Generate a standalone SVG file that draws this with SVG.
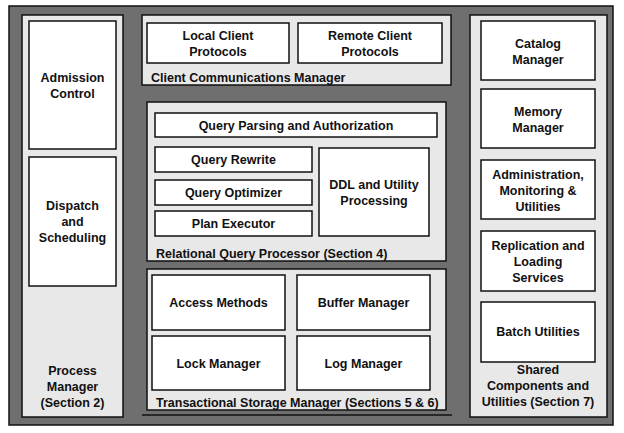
<svg xmlns="http://www.w3.org/2000/svg" width="624" height="433" viewBox="0 0 624 433">
<style>
.outer{fill:#6f6f6f;stroke:#111;stroke-width:1.5}
.panel{fill:#e8e8e8;stroke:#111;stroke-width:1.5}
.box{fill:#fff;stroke:#111;stroke-width:1.5}
text{font-family:"Liberation Sans",Arial,Helvetica,sans-serif;font-weight:bold;font-size:12.5px;fill:#111}
.c{text-anchor:middle}
</style>
<rect width="624" height="433" fill="#fff"/>
<rect class="outer" x="9" y="6" width="604" height="419"/>

<g id="process-manager">
<rect class="panel" x="22" y="15" width="101" height="402"/>
<text class="c" x="72.5" y="375">Process</text>
<text class="c" x="72.5" y="391">Manager</text>
<text class="c" x="72.5" y="407">(Section 2)</text>
</g>
<g id="admission-control">
<rect class="box" x="29" y="21" width="87" height="128"/>
<text class="c" x="72.5" y="82">Admission</text>
<text class="c" x="72.5" y="98">Control</text>
</g>
<g id="dispatch-scheduling">
<rect class="box" x="29" y="157" width="87" height="129"/>
<text class="c" x="72.5" y="210">Dispatch</text>
<text class="c" x="72.5" y="226">and</text>
<text class="c" x="72.5" y="242">Scheduling</text>
</g>

<g id="client-comm-manager">
<rect class="panel" x="142" y="15" width="309" height="70"/>
<text x="151" y="81.5">Client Communications Manager</text>
</g>
<g id="local-client-protocols">
<rect class="box" x="147" y="23" width="142" height="40"/>
<text class="c" x="218" y="39.5">Local Client</text>
<text class="c" x="218" y="55.5">Protocols</text>
</g>
<g id="remote-client-protocols">
<rect class="box" x="298" y="23" width="144" height="40"/>
<text class="c" x="370" y="39.5">Remote Client</text>
<text class="c" x="370" y="55.5">Protocols</text>
</g>

<g id="relational-query-processor">
<rect class="panel" x="147" y="102" width="299" height="159"/>
<text x="156" y="257.5">Relational Query Processor (Section 4)</text>
</g>
<g id="query-parsing">
<rect class="box" x="155" y="113" width="282" height="24"/>
<text class="c" x="296" y="129.5">Query Parsing and Authorization</text>
</g>
<g id="query-rewrite">
<rect class="box" x="155" y="147" width="157" height="25"/>
<text class="c" x="233.5" y="164">Query Rewrite</text>
</g>
<g id="query-optimizer">
<rect class="box" x="155" y="180" width="157" height="25"/>
<text class="c" x="233.5" y="197">Query Optimizer</text>
</g>
<g id="plan-executor">
<rect class="box" x="155" y="211" width="157" height="25"/>
<text class="c" x="233.5" y="228">Plan Executor</text>
</g>
<g id="ddl-utility">
<rect class="box" x="319" y="148" width="110" height="88"/>
<text class="c" x="374" y="189">DDL and Utility</text>
<text class="c" x="374" y="205">Processing</text>
</g>

<g id="transactional-storage-manager">
<rect class="panel" x="147" y="269" width="299" height="141"/>
<text x="156" y="406.5">Transactional Storage Manager (Sections 5 &amp; 6)</text>
</g>
<g id="access-methods">
<rect class="box" x="152" y="275" width="133" height="55"/>
<text class="c" x="218.5" y="307">Access Methods</text>
</g>
<g id="buffer-manager">
<rect class="box" x="297" y="275" width="133" height="55"/>
<text class="c" x="363.5" y="307">Buffer Manager</text>
</g>
<g id="lock-manager">
<rect class="box" x="152" y="336" width="133" height="54"/>
<text class="c" x="218.5" y="367.5">Lock Manager</text>
</g>
<g id="log-manager">
<rect class="box" x="297" y="336" width="133" height="54"/>
<text class="c" x="363.5" y="367.5">Log Manager</text>
</g>
<g id="bottom-rule">
<line x1="142" y1="415" x2="452" y2="415" stroke="#111" stroke-width="1.5"/>
</g>

<g id="shared-components">
<rect class="panel" x="470" y="15" width="137" height="402"/>
<text class="c" x="538" y="374">Shared</text>
<text class="c" x="538" y="390">Components and</text>
<text class="c" x="538" y="406">Utilities (Section 7)</text>
</g>
<g id="catalog-manager">
<rect class="box" x="481" y="21" width="114" height="59"/>
<text class="c" x="538" y="48">Catalog</text>
<text class="c" x="538" y="64">Manager</text>
</g>
<g id="memory-manager">
<rect class="box" x="481" y="89" width="114" height="59"/>
<text class="c" x="538" y="116">Memory</text>
<text class="c" x="538" y="132">Manager</text>
</g>
<g id="administration">
<rect class="box" x="481" y="160" width="114" height="59"/>
<text class="c" x="538" y="179">Administration,</text>
<text class="c" x="538" y="195">Monitoring &amp;</text>
<text class="c" x="538" y="211">Utilities</text>
</g>
<g id="replication">
<rect class="box" x="481" y="231" width="114" height="60"/>
<text class="c" x="538" y="250">Replication and</text>
<text class="c" x="538" y="266">Loading</text>
<text class="c" x="538" y="282">Services</text>
</g>
<g id="batch-utilities">
<rect class="box" x="481" y="302" width="114" height="60"/>
<text class="c" x="538" y="336">Batch Utilities</text>
</g>
<g id="connectors"></g>
</svg>
